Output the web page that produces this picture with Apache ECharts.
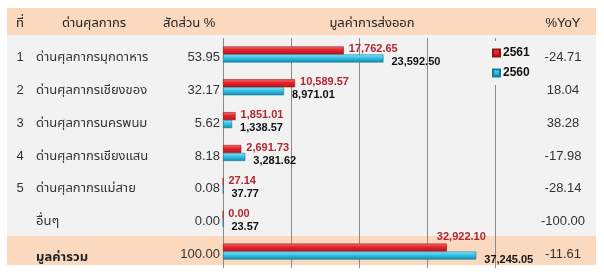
<!DOCTYPE html>
<html><head><meta charset="utf-8">
<script src="https://cdn.jsdelivr.net/npm/echarts@6/dist/echarts.min.js"></script>
<style>html,body{margin:0;padding:0;background:#fff}#c{width:604px;height:276px}</style>
</head><body><div id="c"></div>
<script>
const rowNumbers = ['1', '2', '3', '4', '5', '', ''];
const checkpoints = ['ด่านศุลกากรมุกดาหาร', 'ด่านศุลกากรเชียงของ', 'ด่านศุลกากรนครพนม', 'ด่านศุลกากรเชียงแสน', 'ด่านศุลกากรแม่สาย', 'อื่นๆ', 'มูลค่ารวม'];
const shares = ['53.95', '32.17', '5.62', '8.18', '0.08', '0.00', '100.00'];
const exports2561 = [17762.65, 10589.57, 1851.01, 2691.73, 27.14, 0.00, 32922.10];
const exports2560 = [23592.50, 8971.01, 1338.57, 3281.62, 37.77, 23.57, 37245.05];
const yoy = ['-24.71', '18.04', '38.28', '-17.98', '-28.14', '-100.00', '-11.61'];
const headers = ['ที่', 'ด่านศุลกากร', 'สัดส่วน %', 'มูลค่าการส่งออก', '%YoY'];
const seriesNames = ['2561', '2560'];

const FONT = "'Liberation Sans', 'Noto Sans Thai', 'Noto Sans', sans-serif";
const LFONT = "'Liberation Sans', 'Noto Sans', sans-serif";
const lastIdx = checkpoints.length - 1;

function fmtNum(v) {
  return v.toLocaleString('en-US', {minimumFractionDigits: 2, maximumFractionDigits: 2});
}

function textAxis(position, margin, align, fmt) {
  return {
    type: 'category', data: checkpoints, inverse: true, position: position, gridIndex: 0,
    axisLine: {show: false}, axisTick: {show: false}, splitLine: {show: false},
    axisLabel: {
      margin: margin, align: align, interval: 0,
      formatter: function (v, i) { return fmt(i); },
      color: '#333', fontSize: 13, fontFamily: FONT, padding: [6, 0, 0, 0],
      rich: {b: {fontWeight: 'bold', fontSize: 13, fontFamily: FONT, color: '#222', padding: [6, 0, 0, 0]}}
    }
  };
}

const chart = echarts.init(document.getElementById('c'), null, {renderer: 'canvas'});

const redData = exports2561.map(function (v, i) {
  const d = {value: v};
  if (i === lastIdx) d.label = {offset: [-12, -11]};
  return d;
});

const option = {
  backgroundColor: '#ffffff',
  animation: false,
  graphic: [
    {type: 'rect', z: -10, silent: true, shape: {x: 7, y: 8, width: 589, height: 27}, style: {fill: '#FBD9BF'}},
    {type: 'rect', z: -10, silent: true, shape: {x: 7, y: 35, width: 589, height: 201}, style: {fill: '#F2F2F2'}},
    {type: 'rect', z: -10, silent: true, shape: {x: 7, y: 236, width: 589, height: 29}, style: {fill: '#FBD9BF'}},
    {type: 'text', z: 10, style: {text: headers[0], x: 20, y: 23, align: 'center', verticalAlign: 'middle', font: '13px ' + FONT, fill: '#222'}},
    {type: 'text', z: 10, style: {text: headers[1], x: 62, y: 23, align: 'left', verticalAlign: 'middle', font: '13px ' + FONT, fill: '#222'}},
    {type: 'text', z: 10, style: {text: headers[2], x: 163, y: 23, align: 'left', verticalAlign: 'middle', font: '13px ' + FONT, fill: '#222'}},
    {type: 'text', z: 10, style: {text: headers[3], x: 372, y: 23, align: 'center', verticalAlign: 'middle', font: '13px ' + FONT, fill: '#222'}},
    {type: 'text', z: 10, style: {text: headers[4], x: 563, y: 23, align: 'center', verticalAlign: 'middle', font: '13px ' + FONT, fill: '#222'}}
  ],
  grid: {left: 223, right: 109, top: 38, bottom: 8, containLabel: false},
  legend: {
    data: seriesNames, orient: 'vertical', left: 487, top: 41,
    itemWidth: 7, itemHeight: 7, itemGap: 8, icon: 'rect',
    backgroundColor: '#F2F2F2', padding: [6, 10, 6, 5],
    textStyle: {fontWeight: 'bold', fontSize: 12, fontFamily: LFONT, color: '#111', padding: [0, 0, 0, -2]}
  },
  xAxis: {
    type: 'value', min: 0, max: 40000, interval: 10000,
    axisLabel: {show: false}, axisTick: {show: false}, axisLine: {show: false},
    splitLine: {show: true, lineStyle: {color: '#8a8a8a', width: 1}}
  },
  yAxis: [
    textAxis('left', 203, 'center', function (i) { return rowNumbers[i]; }),
    textAxis('left', 187, 'left', function (i) { return i === lastIdx ? '{b|' + checkpoints[i] + '}' : checkpoints[i]; }),
    textAxis('left', 3, 'right', function (i) { return shares[i]; }),
    textAxis('right', 68, 'center', function (i) { return yoy[i]; })
  ],
  series: [
    {
      name: seriesNames[0], type: 'bar', yAxisIndex: 0, data: redData,
      barWidth: 8, barGap: '0%', barCategoryGap: '40%',
      itemStyle: {
        color: new echarts.graphic.LinearGradient(0, 0, 0, 1, [
          {offset: 0, color: '#F5777A'}, {offset: 0.4, color: '#E8252B'}, {offset: 1, color: '#B0161B'}
        ]),
        borderColor: '#9A1216', borderWidth: 0.6
      },
      label: {
        show: true, position: 'right', offset: [3, -1], distance: 2,
        formatter: function (p) { return fmtNum(p.value); },
        color: '#B0272F', fontWeight: 'bold', fontSize: 11, fontFamily: LFONT
      }
    },
    {
      name: seriesNames[1], type: 'bar', yAxisIndex: 0, data: exports2560,
      barWidth: 8, barGap: '0%',
      itemStyle: {
        color: new echarts.graphic.LinearGradient(0, 0, 0, 1, [
          {offset: 0, color: '#9BE6F8'}, {offset: 0.4, color: '#35C6EB'}, {offset: 1, color: '#1589AB'}
        ]),
        borderColor: '#127A99', borderWidth: 0.6
      },
      label: {
        show: true, position: 'right', offset: [6, 4], distance: 2,
        formatter: function (p) { return fmtNum(p.value); },
        color: '#111', fontWeight: 'bold', fontSize: 11, fontFamily: LFONT
      }
    }
  ]
};
chart.setOption(option);
</script>
</body></html>
